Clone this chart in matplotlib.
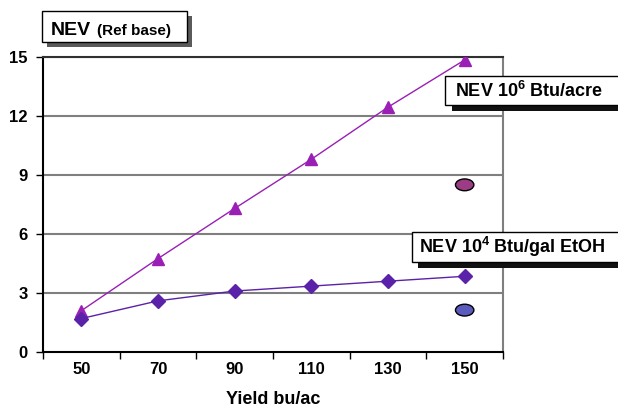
import matplotlib
matplotlib.use("Agg")
import matplotlib.pyplot as plt
from matplotlib.patches import Rectangle, Ellipse

plt.rcParams["font.family"] = ["Liberation Sans", "DejaVu Sans"]
plt.rcParams["mathtext.fontset"] = "custom"
plt.rcParams["mathtext.bf"] = "Liberation Sans:bold"
plt.rcParams["mathtext.rm"] = "Liberation Sans"

yields = ["50", "70", "90", "110", "130", "150"]
nev_acre = [2.1, 4.75, 7.3, 9.8, 12.45, 14.85]      # 10^6 Btu/acre
nev_gal = [1.7, 2.6, 3.1, 3.35, 3.6, 3.85]          # 10^4 Btu/gal EtOH
y_ticks = [0, 3, 6, 9, 12, 15]

W, H = 618, 408
fig = plt.figure(figsize=(W / 100, H / 100), dpi=100)
ax = fig.add_axes([43 / W, 1 - 352 / H, 460 / W, 295 / H])

x = list(range(len(yields)))
ax.plot(x, nev_acre, color="#9a1fb5", lw=1, marker="^", ms=8.5, zorder=3)
ax.plot(x, nev_gal, color="#5a22a8", lw=1, marker="D", ms=7.5, zorder=4)

# marker swatches beside the chart
ax.add_patch(Ellipse((5, 8.5), 0.24, 0.6, facecolor="#9c3c84", edgecolor="black", lw=1, zorder=5))
ax.add_patch(Ellipse((5, 2.13), 0.24, 0.6, facecolor="#5b5bbf", edgecolor="black", lw=1, zorder=5))

ax.set_xlim(-0.5, 5.5)
ax.set_ylim(0, 15)
ax.set_yticks(y_ticks)
ax.set_yticklabels([str(v) for v in y_ticks], fontweight="bold", fontsize=12)
ax.set_xticks(x)
ax.set_xticklabels(yields, fontweight="bold", fontsize=12)
ax.set_xticks([i - 0.5 for i in range(len(yields) + 1)], minor=True)
ax.tick_params(axis="x", which="major", length=0, pad=7)
ax.tick_params(axis="x", which="minor", length=5, width=1, direction="out")
ax.tick_params(axis="y", length=5, width=1, direction="out", pad=6)
for v in y_ticks[1:]:
    ax.axhline(v, color="#7f7f7f", lw=1.5, zorder=1)
ax.spines["left"].set_color("black")
ax.spines["bottom"].set_color("black")
ax.spines["left"].set_linewidth(1.5)
ax.spines["bottom"].set_linewidth(1.5)
ax.spines["top"].set_color("#303030")
ax.spines["top"].set_linewidth(1.5)
ax.spines["right"].set_color("#7f7f7f")
ax.spines["right"].set_linewidth(1.5)
ax.set_xlabel("Yield bu/ac", fontweight="bold", fontsize=13)
ax.xaxis.set_label_coords(0.5, -(391 - 352) / 295)


def box(x0, y0, x1, y1, shadow, dx, dy):
    # pixel coords measured from the top-left corner
    fig.add_artist(Rectangle(((x0 + dx) / W, 1 - (y1 + dy) / H),
                             (x1 - x0) / W, (y1 - y0) / H, transform=fig.transFigure,
                             facecolor=shadow, edgecolor="none", zorder=10))
    fig.add_artist(Rectangle((x0 / W, 1 - y1 / H), (x1 - x0) / W, (y1 - y0) / H,
                             transform=fig.transFigure, facecolor="white",
                             edgecolor="black", lw=1, zorder=11))


box(42, 11, 187, 42, "#5a5a5a", 5, 5)
fig.text(51 / W, 1 - 35 / H, "NEV", fontweight="bold", fontsize=14, va="baseline", zorder=12)
fig.text(97 / W, 1 - 35 / H, "(Ref base)", fontweight="bold", fontsize=11, va="baseline", zorder=12)

box(445, 76, 630, 105, "#111111", 7, 6)
fig.text(455 / W, 1 - 97 / H, r"NEV 10$^{\mathbf{6}}$ Btu/acre", fontweight="bold",
         fontsize=13, va="baseline", zorder=12)

box(412, 232, 630, 262, "#111111", 6, 6)
fig.text(419 / W, 1 - 253 / H, r"NEV 10$^{\mathbf{4}}$ Btu/gal EtOH", fontweight="bold",
         fontsize=13, va="baseline", zorder=12)

fig.savefig("out.png", dpi=100)
